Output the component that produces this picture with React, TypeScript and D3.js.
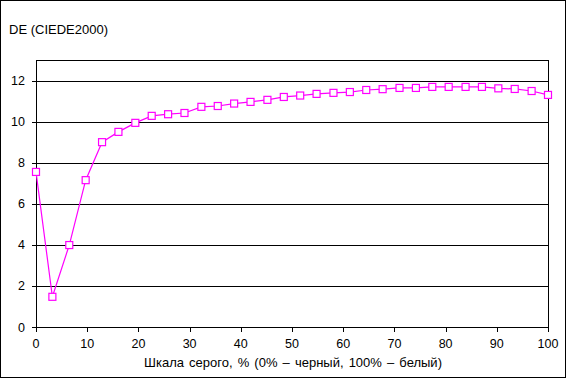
import React from "react";
import * as d3 from "d3";

const xValues = [0, 3.2, 6.5, 9.7, 12.9, 16.1, 19.4, 22.6, 25.8, 29.0, 32.3, 35.5, 38.7, 41.9, 45.2, 48.4, 51.6, 54.8, 58.1, 61.3, 64.5, 67.7, 71.0, 74.2, 77.4, 80.6, 83.9, 87.1, 90.3, 93.5, 96.8, 100];
const deValues = [7.55, 1.47, 3.99, 7.15, 9.0, 9.5, 9.94, 10.28, 10.36, 10.42, 10.72, 10.76, 10.88, 10.96, 11.06, 11.2, 11.27, 11.35, 11.4, 11.44, 11.54, 11.58, 11.64, 11.64, 11.69, 11.69, 11.69, 11.69, 11.62, 11.59, 11.49, 11.3];
const xTicks = [0, 10, 20, 30, 40, 50, 60, 70, 80, 90, 100];
const yTicks = [0, 2, 4, 6, 8, 10, 12];
const yTitle = "DE (CIEDE2000)";
const xTitle = "Шкала серого, % (0% – черный, 100% – белый)";

export default function App() {
  const W = 567, H = 379;
  const left = 36, right = 548, top = 60, bottom = 327;
  const x = d3.scaleLinear().domain([0, 100]).range([left, right]);
  const y = d3.scaleLinear().domain([0, 13]).range([bottom, top]);
  const line = d3.line<number>().x((_, i) => x(xValues[i])).y((d) => y(d));
  const font = "Arial, 'Liberation Sans', sans-serif";
  const magenta = "#FF00FF";
  return (
    <svg width={W} height={H} style={{ position: "absolute", left: 0, top: 0 }} fontFamily={font} fontSize={12.5}>
      <rect x={0} y={0} width={W} height={H} fill="#fff" />
      <rect x={0.5} y={0.5} width={565} height={377} fill="none" stroke="#000" strokeWidth={1} />
      {yTicks.filter((t) => t > 0).map((t) => (
        <line key={"g" + t} x1={left} x2={right} y1={Math.round(y(t)) + 0.5} y2={Math.round(y(t)) + 0.5} stroke="#000" />
      ))}
      <line x1={left} x2={right} y1={top + 0.5} y2={top + 0.5} stroke="#000" />
      <line x1={right + 0.5} x2={right + 0.5} y1={top} y2={bottom} stroke="#000" />
      <line x1={left + 0.5} x2={left + 0.5} y1={top} y2={bottom + 1} stroke="#000" />
      <line x1={left} x2={right + 1} y1={bottom + 0.5} y2={bottom + 0.5} stroke="#000" />
      {yTicks.map((t) => (
        <g key={"y" + t}>
          <line x1={left - 4} x2={left} y1={Math.round(y(t)) + 0.5} y2={Math.round(y(t)) + 0.5} stroke="#000" />
          <text x={25} y={y(t)} dy="0.36em" textAnchor="end" fill="#000">{t}</text>
        </g>
      ))}
      {xTicks.map((t) => (
        <g key={"x" + t}>
          <line x1={Math.round(x(t)) + 0.5} x2={Math.round(x(t)) + 0.5} y1={bottom} y2={bottom + 5} stroke="#000" />
          <text x={x(t)} y={347.5} textAnchor="middle" fill="#000">{t}</text>
        </g>
      ))}
      <text x={9} y={34} fill="#000" fontSize={13}>{yTitle}</text>
      <text x={293} y={367} textAnchor="middle" fill="#000" fontSize={13} wordSpacing={1.5}>{xTitle}</text>
      <path d={line(deValues) || ""} fill="none" stroke={magenta} strokeWidth={1.2} />
      {deValues.map((v, i) => (
        <rect key={"m" + i} x={x(xValues[i]) - 3.5} y={y(v) - 3.5} width={7} height={7} fill="#fff" stroke={magenta} strokeWidth={1.2} />
      ))}
    </svg>
  );
}
